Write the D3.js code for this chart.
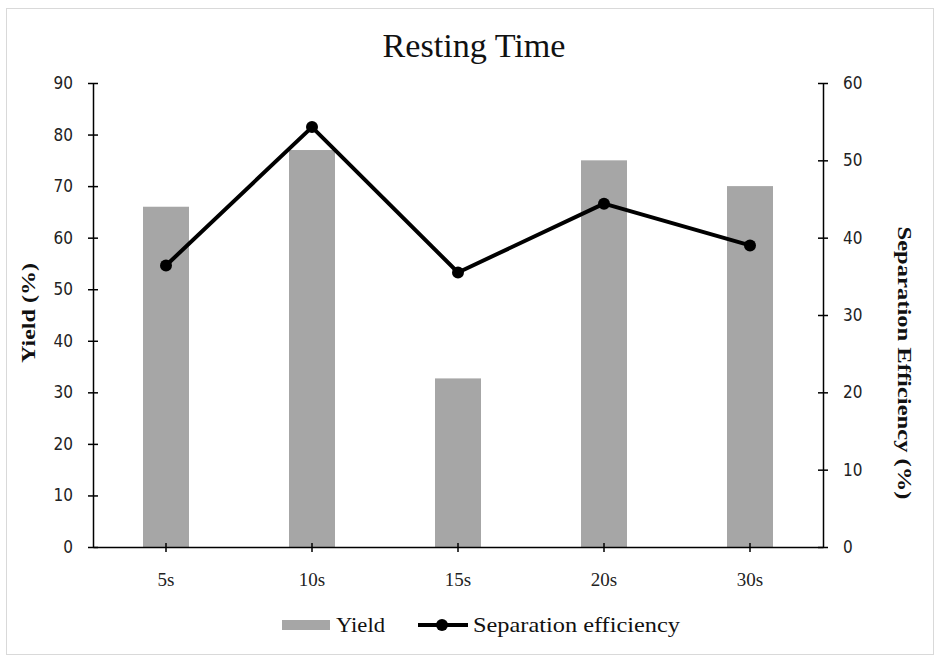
<!DOCTYPE html>
<html>
<head>
<meta charset="utf-8">
<script src="https://cdn.jsdelivr.net/npm/d3@7"></script>
<style>
  html, body { margin: 0; padding: 0; background: #fff; }
  svg { display: block; }
</style>
</head>
<body>
<div id="chart"></div>
<script>
// Resting time vs. yield (bars, left axis) and separation efficiency (line, right axis)
const categories = ["5s", "10s", "15s", "20s", "30s"];
const yieldValues = [66, 77, 32.7, 75, 70];
const efficiencyValues = [36.4, 54.3, 35.5, 44.4, 39.0];
const yieldTicks = [0, 10, 20, 30, 40, 50, 60, 70, 80, 90];
const efficiencyTicks = [0, 10, 20, 30, 40, 50, 60];

const W = 935, H = 657;
const plot = { left: 93, right: 823, top: 83, bottom: 547 };
const serif = "'Liberation Serif', 'Times New Roman', serif";
const sans = "'DejaVu Sans Condensed', 'DejaVu Sans', Tahoma, sans-serif";

const svg = d3.select("#chart").append("svg")
  .attr("width", W).attr("height", H);

// chart frame
svg.append("rect")
  .attr("x", 6.5).attr("y", 8.5)
  .attr("width", W - 8).attr("height", H - 11)
  .attr("fill", "#fff").attr("stroke", "#d9d9d9").attr("stroke-width", 1);

const x = d3.scaleBand().domain(categories)
  .range([plot.left, plot.right]).paddingInner(0).paddingOuter(0);
const yL = d3.scaleLinear().domain([0, 90]).range([plot.bottom, plot.top]);
const yR = d3.scaleLinear().domain([0, 60]).range([plot.bottom, plot.top]);

const barW = 46;

// bars
svg.append("g").selectAll("rect")
  .data(categories.map((c, i) => ({ c, v: yieldValues[i] })))
  .join("rect")
  .attr("x", d => x(d.c) + x.bandwidth() / 2 - barW / 2)
  .attr("y", d => yL(d.v))
  .attr("width", barW)
  .attr("height", d => yL(0) - yL(d.v))
  .attr("fill", "#a6a6a6");

// left axis
const axL = svg.append("g").attr("transform", `translate(${plot.left},0)`)
  .call(d3.axisLeft(yL).tickValues(yieldTicks).tickSize(5).tickSizeOuter(0).tickPadding(15));
axL.select(".domain").attr("stroke", "#000").attr("stroke-width", 1.5);
axL.selectAll(".tick line").attr("stroke", "#000").attr("stroke-width", 1.5).attr("x1", 5).attr("x2", -5);
axL.selectAll(".tick text").attr("font-family", sans).attr("font-size", 17).attr("fill", "#222");

// right axis
const axR = svg.append("g").attr("transform", `translate(${plot.right},0)`)
  .call(d3.axisRight(yR).tickValues(efficiencyTicks).tickSize(5).tickSizeOuter(0).tickPadding(15));
axR.select(".domain").attr("stroke", "#000").attr("stroke-width", 1.5);
axR.selectAll(".tick line").attr("stroke", "#000").attr("stroke-width", 1.5).attr("x1", -5).attr("x2", 5);
axR.selectAll(".tick text").attr("font-family", sans).attr("font-size", 17).attr("fill", "#222");

// bottom axis
const axB = svg.append("g").attr("transform", `translate(0,${plot.bottom})`)
  .call(d3.axisBottom(x).tickSize(5).tickSizeOuter(0).tickPadding(21));
axB.select(".domain").attr("stroke", "#000").attr("stroke-width", 1.5);
axB.selectAll(".tick line").attr("stroke", "#000").attr("stroke-width", 1.5).attr("y1", -4).attr("y2", 5);
axB.selectAll(".tick text").attr("font-family", serif).attr("font-size", 19).attr("fill", "#222");

// efficiency line
const line = d3.line()
  .x((d, i) => x(categories[i]) + x.bandwidth() / 2)
  .y(d => yR(d));
svg.append("path").datum(efficiencyValues)
  .attr("d", line).attr("fill", "none")
  .attr("stroke", "#000").attr("stroke-width", 4).attr("stroke-linejoin", "round");
svg.append("g").selectAll("circle")
  .data(efficiencyValues).join("circle")
  .attr("cx", (d, i) => x(categories[i]) + x.bandwidth() / 2)
  .attr("cy", d => yR(d))
  .attr("r", 6).attr("fill", "#000");

// title
svg.append("text")
  .attr("x", 474).attr("y", 57).attr("text-anchor", "middle")
  .attr("font-family", serif).attr("font-size", 34).attr("fill", "#111")
  .attr("textLength", 183).attr("lengthAdjust", "spacingAndGlyphs")
  .text("Resting Time");

// axis titles
svg.append("text")
  .attr("transform", "translate(35,313) rotate(-90)")
  .attr("text-anchor", "middle")
  .attr("font-family", serif).attr("font-size", 19).attr("font-weight", "bold").attr("fill", "#111")
  .attr("textLength", 100).attr("lengthAdjust", "spacingAndGlyphs")
  .text("Yield (%)");
svg.append("text")
  .attr("transform", "translate(898,363) rotate(90)")
  .attr("text-anchor", "middle")
  .attr("font-family", serif).attr("font-size", 19).attr("font-weight", "bold").attr("fill", "#111")
  .attr("textLength", 273).attr("lengthAdjust", "spacingAndGlyphs")
  .text("Separation Efficiency (%)");

// legend
const lg = svg.append("g");
lg.append("rect").attr("x", 282).attr("y", 620).attr("width", 48).attr("height", 10).attr("fill", "#a6a6a6");
lg.append("text").attr("x", 336).attr("y", 632)
  .attr("font-family", serif).attr("font-size", 21).attr("fill", "#111")
  .attr("textLength", 49).attr("lengthAdjust", "spacingAndGlyphs")
  .text("Yield");
lg.append("line").attr("x1", 418).attr("x2", 468).attr("y1", 625).attr("y2", 625)
  .attr("stroke", "#000").attr("stroke-width", 4);
lg.append("circle").attr("cx", 442).attr("cy", 625).attr("r", 6).attr("fill", "#000");
lg.append("text").attr("x", 473).attr("y", 632)
  .attr("font-family", serif).attr("font-size", 21).attr("fill", "#111")
  .attr("textLength", 207).attr("lengthAdjust", "spacingAndGlyphs")
  .text("Separation efficiency");
</script>
</body>
</html>
